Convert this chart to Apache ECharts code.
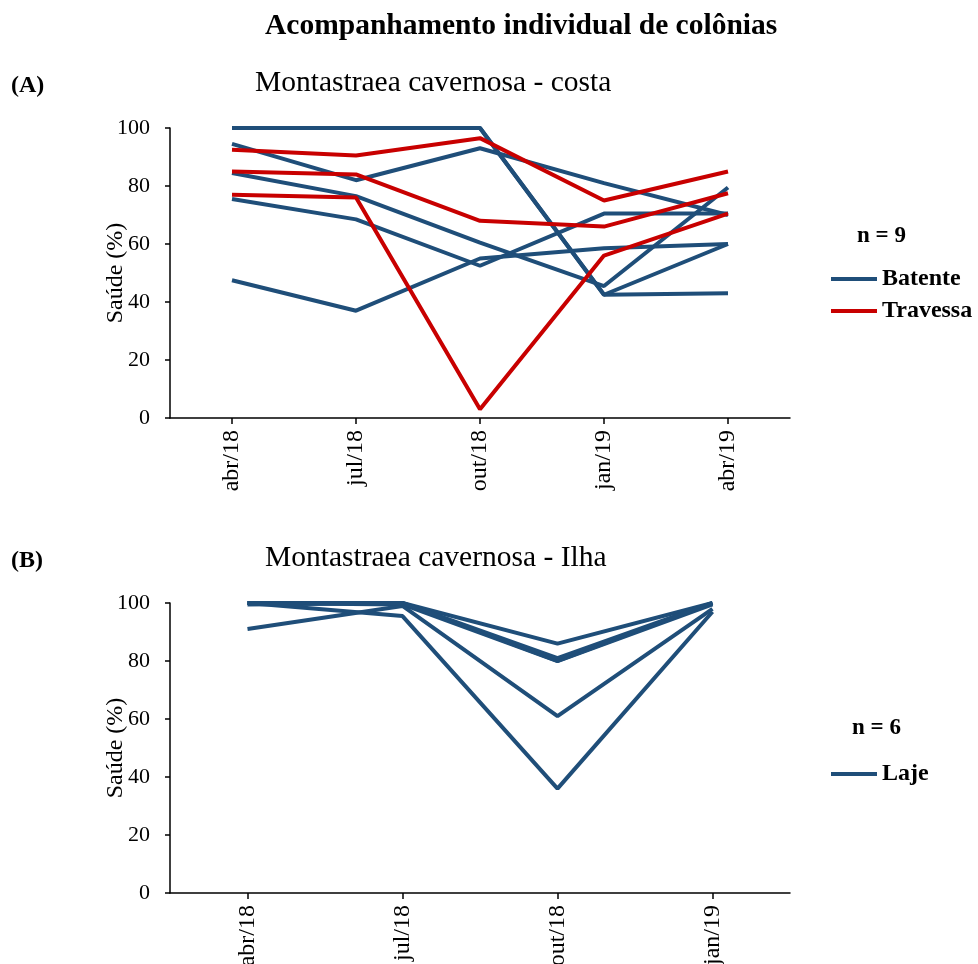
<!DOCTYPE html>
<html>
<head>
<meta charset="utf-8">
<title>Acompanhamento individual de colônias</title>
<script src="https://cdn.jsdelivr.net/npm/echarts@6/dist/echarts.min.js"></script>
<style>
  html, body { margin: 0; padding: 0; background: #ffffff; }
  #chart { width: 978px; height: 964px; }
</style>
</head>
<body>
<div id="chart"></div>
<script>
// Survey dates
const costaDates = ['abr/18', 'jul/18', 'out/18', 'jan/19', 'abr/19'];
const ilhaDates = ['abr/18', 'jul/18', 'out/18', 'jan/19'];

// Colony health (%) - coast site, Batente
const batente1 = [100, 100, 100, 42.5, 43];
const batente2 = [94.5, 82, 93, 81, 70];
const batente3 = [84.5, 76.5, 60.5, 45.5, 79.5];
const batente4 = [75.5, 68.5, 52.5, 70.5, 70.5];
const batente5 = [47.5, 37, 55, 58.5, 60];
const batente6 = [100, 100, 100, 42.5, 60];

// Colony health (%) - coast site, Travessa
const travessa1 = [92.5, 90.5, 96.5, 75, 85];
const travessa2 = [85, 84, 68, 66, 77.5];
const travessa3 = [77, 76, 3, 56, 70.5];

// Colony health (%) - island site, Laje
const laje1 = [100, 100, 86, 100];
const laje2 = [100, 100, 80, 100];
const laje3 = [100, 99.5, 80, 99.5];
const laje4 = [91, 99, 61, 98];
const laje5 = [100, 95.5, 36, 97];
const laje6 = [99.5, 100, 81, 100];

const yTicks = [0, 20, 40, 60, 80, 100];

const BLUE = '#1f4e79';
const RED = '#c80000';
const SERIF = 'Liberation Serif';

const chart = echarts.init(document.getElementById('chart'), null, { renderer: 'canvas' });

function yAxisCfg(gridIndex) {
  return {
    type: 'value', gridIndex, min: yTicks[0], max: yTicks[yTicks.length - 1], interval: 20,
    name: 'Saúde (%)', nameLocation: 'middle', nameGap: 42, nameMoveOverlap: false,
    nameTextStyle: { fontFamily: SERIF, fontSize: 24, color: '#000' },
    axisLine: { show: true, lineStyle: { color: '#000', width: 1.5 } },
    axisTick: { show: true, length: 5, lineStyle: { color: '#000', width: 1.5 } },
    axisLabel: { fontFamily: SERIF, fontSize: 22, color: '#000', margin: 20 },
    splitLine: { show: false }
  };
}

function xAxisCfg(gridIndex, data) {
  return {
    type: 'category', gridIndex, data, boundaryGap: true,
    axisLine: { lineStyle: { color: '#000', width: 1.5 } },
    axisTick: { show: true, alignWithLabel: true, length: 6, lineStyle: { color: '#000', width: 1.5 } },
    axisLabel: { fontFamily: SERIF, fontSize: 24, color: '#000', rotate: 90, margin: 12 }
  };
}

function lineSeries(name, data, color, axisIndex) {
  return {
    type: 'line', name, data, xAxisIndex: axisIndex, yAxisIndex: axisIndex,
    symbol: 'none', smooth: false, color,
    lineStyle: { color, width: 4 },
    emphasis: { disabled: true }, animation: false
  };
}

const series = [
  lineSeries('Batente', batente1, BLUE, 0),
  lineSeries('Batente', batente6, BLUE, 0),
  lineSeries('Batente', batente2, BLUE, 0),
  lineSeries('Batente', batente3, BLUE, 0),
  lineSeries('Batente', batente4, BLUE, 0),
  lineSeries('Batente', batente5, BLUE, 0),
  lineSeries('Travessa', travessa1, RED, 0),
  lineSeries('Travessa', travessa2, RED, 0),
  lineSeries('Travessa', travessa3, RED, 0),
  lineSeries('Laje', laje1, BLUE, 1),
  lineSeries('Laje', laje2, BLUE, 1),
  lineSeries('Laje', laje3, BLUE, 1),
  lineSeries('Laje', laje4, BLUE, 1),
  lineSeries('Laje', laje5, BLUE, 1),
  lineSeries('Laje', laje6, BLUE, 1)
];

const legendText = { fontFamily: SERIF, fontSize: 24, fontWeight: 'bold', color: '#000' };

const option = {
  backgroundColor: '#ffffff',
  animation: false,
  grid: [
    { left: 170, right: 188, top: 128, height: 290, outerBoundsMode: 'none' },
    { left: 170, right: 188, top: 603, height: 290, outerBoundsMode: 'none' }
  ],
  xAxis: [xAxisCfg(0, costaDates), xAxisCfg(1, ilhaDates)],
  yAxis: [yAxisCfg(0), yAxisCfg(1)],
  legend: [
    {
      data: ['Batente', 'Travessa'], orient: 'vertical', left: 826, top: 262,
      icon: 'rect', itemWidth: 46, itemHeight: 4, itemGap: 8,
      textStyle: legendText, selectedMode: false
    },
    {
      data: ['Laje'], orient: 'vertical', left: 826, top: 757,
      icon: 'rect', itemWidth: 46, itemHeight: 4,
      textStyle: legendText, selectedMode: false
    }
  ],
  graphic: [
    { type: 'text', left: 265, top: 11, style: { text: 'Acompanhamento individual de colônias', font: 'bold 29.5px "Liberation Serif"', fill: '#000' } },
    { type: 'text', left: 11, top: 74, style: { text: '(A)', font: 'bold 24px "Liberation Serif"', fill: '#000' } },
    { type: 'text', left: 255, top: 68, style: { text: 'Montastraea cavernosa - costa', font: '29.5px "Liberation Serif"', fill: '#000' } },
    { type: 'text', left: 857, top: 225, style: { text: 'n = 9', font: 'bold 23px "Liberation Serif"', fill: '#000' } },
    { type: 'text', left: 11, top: 549, style: { text: '(B)', font: 'bold 24px "Liberation Serif"', fill: '#000' } },
    { type: 'text', left: 265, top: 543, style: { text: 'Montastraea cavernosa - Ilha', font: '29.5px "Liberation Serif"', fill: '#000' } },
    { type: 'text', left: 852, top: 717, style: { text: 'n = 6', font: 'bold 23px "Liberation Serif"', fill: '#000' } }
  ],
  series
};

chart.setOption(option);
</script>
</body>
</html>
